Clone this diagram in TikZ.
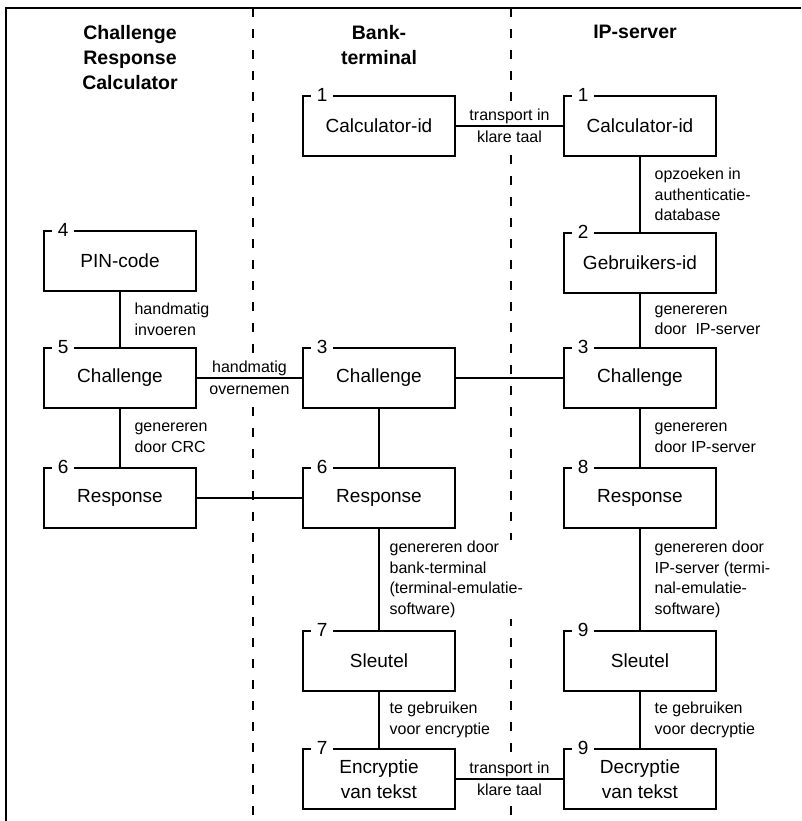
\documentclass[tikz,border=0pt]{standalone}
\usepackage{fontspec}
\setmainfont{Liberation Sans}
\begin{document}
\begin{tikzpicture}[x=1pt,y=-1pt,
  stepbox/.style={draw, line width=1.6pt, minimum width=152pt, minimum height=60pt,
    inner sep=0pt, align=center, font=\fontsize{19}{25}\selectfont},
  numtag/.style={fill=white, inner xsep=6pt, inner ysep=0pt, font=\fontsize{19}{19}\selectfont},
  link/.style={line width=1.2pt},
  lbl/.style={fill=white, inner sep=1pt, align=left, anchor=west,
    font=\fontsize{16}{20.5}\selectfont},
  clbl/.style={fill=white, inner sep=1pt, align=center, behind path,
    font=\fontsize{16}{21.5}\selectfont},
  head/.style={align=center, inner sep=0pt, anchor=north,
    font=\bfseries\fontsize{19.5}{25}\selectfont},
  lane/.style={dash pattern=on 9pt off 12pt, line width=1.3pt},
  frame/.style={line width=1.8pt}]

\useasboundingbox (0,0) rectangle (801,821);

% outer frame (left and top edges)
\draw[frame] (6,821) -- (6,8) -- (801,8);

% dashed lane separators
\coordinate (laneAtop) at (253,8);
\coordinate (laneAbot) at (253,821);
\coordinate (laneBtop) at (511,8);
\coordinate (laneBbot) at (511,821);
\draw[lane] (laneAtop) -- (laneAbot);
\draw[lane] (laneBtop) -- (laneBbot);

% lane headings
\node[head] (hcrc) at (130,25) {Challenge\\Response\\Calculator};
\node[head] (hbank) at (379,25) {Bank-\\terminal};
\node[head] (hip) at (635,25) {IP-server};

% a numbered step box: name, centre, text, number
\newcommand{\cellbox}[4]{%
  \node[stepbox] (#1) at (#2) {#3};
  \node[numtag] (#1-n) at ([xshift=20pt]#1.north west) {#4};}

% Challenge Response Calculator
\cellbox{crc4}{120,261}{PIN-code}{4}
\cellbox{crc5}{120,378}{Challenge}{5}
\cellbox{crc6}{120,498}{Response}{6}

% bank terminal
\cellbox{bt1}{379,126}{Calculator-id}{1}
\cellbox{bt3}{379,378}{Challenge}{3}
\cellbox{bt6}{379,498}{Response}{6}
\cellbox{bt7}{379,661}{Sleutel}{7}
\cellbox{bt7b}{379,779}{Encryptie\\van tekst}{7}

% IP server
\cellbox{ip1}{640,126}{Calculator-id}{1}
\cellbox{ip2}{640,263}{Gebruikers-id}{2}
\cellbox{ip3}{640,378}{Challenge}{3}
\cellbox{ip8}{640,498}{Response}{8}
\cellbox{ip9}{640,661}{Sleutel}{9}
\cellbox{ip9b}{640,779}{Decryptie\\van tekst}{9}

% vertical connectors
\draw[link] (crc4) -- node[lbl, xshift=13pt] {handmatig\\invoeren} (crc5);
\draw[link] (crc5) -- node[lbl, xshift=13pt] {genereren\\door CRC} (crc6);
\draw[link] (bt3) -- (bt6);
\draw[link] (bt6) -- node[lbl, xshift=9pt] {genereren door\\bank-terminal\\(terminal-emulatie-\\software)} (bt7);
\draw[link] (bt7) -- node[lbl, xshift=9pt] {te gebruiken\\voor encryptie} (bt7b);
\draw[link] (ip1) -- node[lbl, xshift=13pt] {opzoeken in\\authenticatie-\\database} (ip2);
\draw[link] (ip2) -- node[lbl, xshift=13pt] {genereren\\door~~IP-server} (ip3);
\draw[link] (ip3) -- node[lbl, xshift=13pt] {genereren\\door IP-server} (ip8);
\draw[link] (ip8) -- node[lbl, xshift=13pt] {genereren door\\IP-server (termi-\\nal-emulatie-\\software)} (ip9);
\draw[link] (ip9) -- node[lbl, xshift=13pt] {te gebruiken\\voor decryptie} (ip9b);

% horizontal connectors
\draw[link] (bt1) -- node[clbl] {transport in\\klare taal} (ip1);
\draw[link] (crc5) -- node[clbl] {handmatig\\overnemen} (bt3);
\draw[link] (bt3) -- (ip3);
\draw[link] (crc6) -- (bt6);
\draw[link] (bt7b) -- node[clbl] {transport in\\klare taal} (ip9b);

\end{tikzpicture}
\end{document}
